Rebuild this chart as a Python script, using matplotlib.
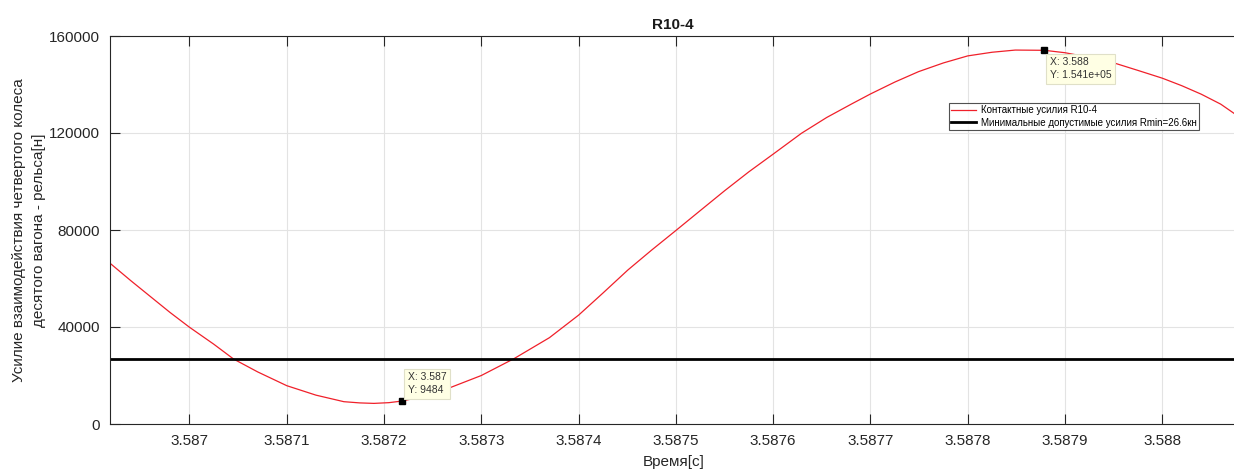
import matplotlib.pyplot as plt
import numpy as np

plt.rcParams['font.family'] = ['Liberation Sans', 'DejaVu Sans']

# время [с] и контактные усилия R10-4 [н]
t = [3.5869183, 3.5869400, 3.5869600, 3.5869800, 3.5870000, 3.5870250,
     3.5870453, 3.5870700, 3.5871000, 3.5871300, 3.5871587, 3.5871750,
     3.5871896, 3.5872050, 3.5872188, 3.5872450, 3.5872686, 3.5873000,
     3.5873338, 3.5873700, 3.5874000, 3.5874250, 3.5874506, 3.5874750,
     3.5875000, 3.5875250, 3.5875501, 3.5875750, 3.5876000, 3.5876291,
     3.5876550, 3.5876807, 3.5877000, 3.5877250, 3.5877494, 3.5877750,
     3.5878000, 3.5878250, 3.5878489, 3.5878788, 3.5879000, 3.5879250,
     3.5879519, 3.5879750, 3.5880000, 3.5880200, 3.5880400, 3.5880600,
     3.5880762]
R = [66300, 59000, 52500, 46000, 39900, 32900,
     26800, 21500, 15800, 11900, 9200, 8700,
     8500, 8800, 9484, 11800, 15100, 20000,
     27000, 35600, 44900, 54000, 63500, 71700,
     79800, 88000, 96200, 104000, 111300, 119900,
     126400, 132000, 136100, 141000, 145300, 148900,
     151800, 153300, 154200, 154100, 153100, 151200,
     148700, 145800, 142600, 139500, 136000, 131900,
     127400]

Rmin = 26600
tips = [(3.5872188, 9484, 'X: 3.587\nY: 9484'),
        (3.5878788, 154100, 'X: 3.588\nY: 1.541e+05')]

xticks = [3.587, 3.5871, 3.5872, 3.5873, 3.5874, 3.5875,
          3.5876, 3.5877, 3.5878, 3.5879, 3.588]
xticklabels = ['3.587', '3.5871', '3.5872', '3.5873', '3.5874', '3.5875',
               '3.5876', '3.5877', '3.5878', '3.5879', '3.588']
yticks = [0, 40000, 80000, 120000, 160000]

fig = plt.figure(figsize=(12.34, 4.70), dpi=100)
ax = fig.add_axes([110/1234, 46/470, 1.002 - 110/1234, 388/470])

ax.plot(t, R, color='#f0202a', lw=0.9, label='Контактные усилия R10-4')
ax.axhline(Rmin, color='black', lw=2, label='Минимальные допустимые усилия Rmin=26.6кн')

for x, y, txt in tips:
    ax.plot(x, y, 's', color='black', ms=5, zorder=5)
off = [(4, 4), (4, -5)]
va = ['bottom', 'top']
for (x, y, txt), o, v in zip(tips, off, va):
    ax.annotate(txt, (x, y), xytext=o, textcoords='offset points',
                fontsize=7.5, color='#333333', va=v, ha='left',
                linespacing=1.4,
                bbox=dict(boxstyle='square,pad=0.35', fc='#ffffe4', ec='#e0e0c8', lw=0.8),
                zorder=6)

ax.set_xlim(3.5869183, 3.5880762)
ax.set_ylim(0, 160000)
ax.set_xticks(xticks)
ax.set_xticklabels(xticklabels)
ax.set_yticks(yticks)
ax.grid(True, color='#e3e3e3', lw=0.8)
ax.set_axisbelow(True)
ax.tick_params(direction='in', length=7, width=0.8, colors='#262626',
               labelsize=11, top=True, right=False, pad=7)
for s in ['left', 'bottom', 'top']:
    ax.spines[s].set_color('#262626')
    ax.spines[s].set_linewidth(0.8)
ax.spines['right'].set_visible(False)

ax.set_title('R10-4', fontsize=11, fontweight='bold', color='#1a1a1a', pad=5)
ax.set_xlabel('Время[с]', fontsize=11, color='#262626', labelpad=5)
ax.set_ylabel('Усилие взаимодействия четвертого колеса\nдесятого вагона - рельса[н]',
              fontsize=11, color='#262626', labelpad=2, linespacing=1.6)

leg = ax.legend(loc='upper left', bbox_to_anchor=(837/1124, 1 - 67/388),
                fontsize=7, frameon=True, fancybox=False, edgecolor='#262626',
                handlelength=2.6, borderpad=0.2, labelspacing=0.3,
                handletextpad=0.5, borderaxespad=0)
leg.get_frame().set_linewidth(0.8)

fig.savefig('out.png', dpi=100)
